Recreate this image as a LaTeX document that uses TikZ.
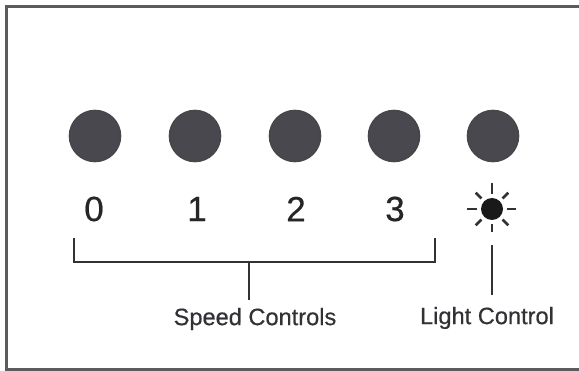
\documentclass[tikz,border=0pt]{standalone}
\usepackage{fontspec}
\usetikzlibrary{calc}
\setmainfont{Liberation Sans}
\newfontfamily\heavy[FakeBold=0.5]{Liberation Sans}
\definecolor{ink}{RGB}{50,50,54}
\definecolor{disc}{RGB}{72,72,78}
\tikzset{
  line/.style={draw=ink,line width=2.4pt},
  thin line/.style={draw=ink,line width=2pt},
  button/.style={circle,draw=ink!90,line width=1.6pt,fill=disc,minimum size=51pt,inner sep=0pt},
  digit/.style={text=black!85,font=\heavy\fontsize{35}{40}\selectfont,inner sep=0pt},
  caption/.style={text=ink,font=\heavy\fontsize{23.6}{27}\selectfont,inner sep=0pt},
  ray/.style={draw=ink,line width=2.6pt},
}
\begin{document}
\begin{tikzpicture}[x=1pt,y=-1pt]
\useasboundingbox (0,0) rectangle (579,371);
\draw[draw=ink!80,line width=2.6pt] (579,6.5) -- (6.5,6.5) -- (6.5,369.8) -- (579,369.8);
\node[button] (b0) at (95,136) {};
\node[button] (b1) at (195,136) {};
\node[button] (b2) at (295,136) {};
\node[button] (b3) at (394,136) {};
\node[button] (b4) at (493,136) {};
\node[digit] (d0) at (94,209) {0};
\node[digit] (d1) at (197,209) {1};
\node[digit] (d2) at (296,209) {2};
\node[digit] (d3) at (395,209) {3};
\node[circle,fill=black!90,minimum size=22pt,inner sep=0pt] (sun) at (492,209) {};
\foreach \a/\r in {0/24,45/23,90/23,135/23,180/25,225/23,270/26,315/23}{
  \draw[ray] ($(sun)+(\a:15)$) -- ($(sun)+(\a:\r)$);
}
\coordinate (bl) at (74,262);
\coordinate (br) at (435,262);
\coordinate (blt) at (74,238);
\coordinate (brt) at (435,238);
\coordinate (bm) at (249,262);
\coordinate (lt) at (492,245);
\coordinate (bme) at (249,300);
\coordinate (lte) at (492,295);
\node[caption] (speed) at (255,319) {Speed Controls};
\node[caption] (light) at (487,318) {Light Control};
\draw[line] (blt) -- (bl) -- (br) -- (brt);
\draw[thin line] (bm) -- (bme);
\draw[line] (lt) -- (lte);
\end{tikzpicture}
\end{document}
